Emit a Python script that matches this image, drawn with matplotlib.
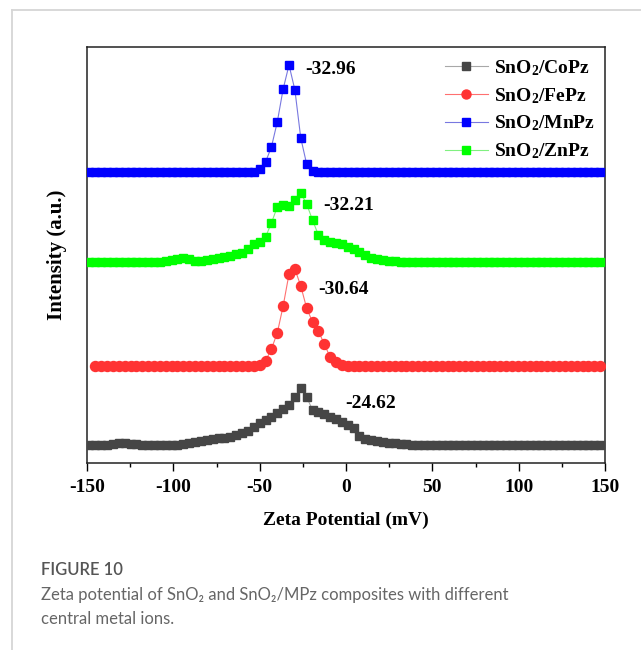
import numpy as np
import matplotlib
matplotlib.use("Agg")
from matplotlib import pyplot as plt
from matplotlib.lines import Line2D

# zeta potential bins (mV), shared by the four samples
zeta = [-148.6, -145.2, -141.8, -138.4, -135.0, -131.6, -128.2, -124.8, -121.4, -118.0,
        -114.6, -111.2, -107.8, -104.4, -101.0, -97.6, -94.2, -90.8, -87.4, -84.0,
        -80.6, -77.2, -73.8, -70.4, -67.0, -63.6, -60.2, -56.8, -53.4, -50.0,
        -46.6, -43.2, -39.8, -36.4, -33.0, -29.6, -26.2, -22.8, -19.4, -16.0,
        -12.6, -9.2, -5.8, -2.4, 1.0, 4.4, 7.8, 11.2, 14.6, 18.0,
        21.4, 24.8, 28.2, 31.6, 35.0, 38.4, 41.8, 45.2, 48.6, 52.0,
        55.4, 58.8, 62.2, 65.6, 69.0, 72.4, 75.8, 79.2, 82.6, 86.0,
        89.4, 92.8, 96.2, 99.6, 103.0, 106.4, 109.8, 113.2, 116.6, 120.0,
        123.4, 126.8, 130.2, 133.6, 137.0, 140.4, 143.8, 147.2]

# intensities (a.u.)
copz = [0, 0, 0, 0, 1, 2, 2, 1, 1, 0,
        0, 0, 0, 0, 0, 0, 1, 2, 3, 4,
        5, 6, 7, 7, 8, 10, 12, 14, 18, 22,
        25, 28, 32, 36, 40, 48, 57, 48, 35, 33,
        31, 28, 26, 23, 20, 17, 9, 6, 5, 4,
        3, 2, 2, 1, 1, 0, 0, 0, 0, 0] + [0] * 28
fepz = [None, 0, 0, 0, 0, 0, 0, 0, 0, 0,
        0, 0, 0, 0, 0, 0, 0, 0, 0, 0,
        0, 0, 0, 0, 0, 0, 0, 0, 0, 1,
        5, 17, 33, 60, 92, 97, 80, 58, 44, 35,
        22, 9, 4, 1, 0, 0, 0, 0, 0, 0] + [0] * 38
mnpz = [0, 0, 0, 0, 0, 0, 0, 0, 0, 0,
        0, 0, 0, 0, 0, 0, 0, 0, 0, 0,
        0, 0, 0, 0, 0, 0, 0, 0, 0, 3,
        10, 25, 50, 83, 107, 82, 34, 8, 1, 0] + [0] * 48
znpz = [0, 0, 0, 0, 0, 0, 0, 0, 0, 0,
        0, 0, 0, 1, 2, 3, 4, 3, 1, 1,
        2, 3, 4, 5, 6, 8, 9, 13, 18, 20,
        25, 39, 55, 57, 56, 62, 69, 58, 42, 27,
        22, 20, 19, 18, 15, 13, 10, 7, 4, 3,
        2, 1, 1, 0, 0, 0, 0, 0, 0, 0] + [0] * 28

names = [r"SnO$_2$/CoPz", r"SnO$_2$/FePz", r"SnO$_2$/MnPz", r"SnO$_2$/ZnPz"]
peak_labels = ["-24.62", "-30.64", "-32.96", "-32.21"]

# stacking offsets and styles
offsets = [18, 97, 291, 201]
marker_colors = ["#464646", "#ff3333", "#0000ff", "#00ff00"]
line_colors = ["#a8a8a8", "#ff7070", "#7878e0", "#80f080"]
markers = ["s", "o", "s", "s"]
label_pos = [(-0.6, 60), (-16.2, 174), (-23.7, 393), (-13.3, 258)]

plt.rcParams["font.family"] = "Liberation Serif"
plt.rcParams["font.weight"] = "bold"
plt.rcParams["axes.unicode_minus"] = False
plt.rcParams["mathtext.fontset"] = "custom"
plt.rcParams["mathtext.rm"] = "Liberation Serif:bold"
plt.rcParams["mathtext.default"] = "rm"

fs = 14

fig = plt.figure(figsize=(6.41, 6.5), dpi=100)
ax = fig.add_axes([87 / 641, 1 - 463 / 650, 518 / 641, 416 / 650])

series = [copz, fepz, mnpz, znpz]
for i, ys in enumerate(series):
    y = np.array([np.nan if v is None else v for v in ys], dtype=float) + offsets[i]
    ms = 7.2 if markers[i] == "o" else 6.4
    ax.plot(zeta, y, color=line_colors[i], lw=0.8, marker=markers[i], ms=ms,
            mfc=marker_colors[i], mec=marker_colors[i], label=names[i], zorder=3 + i)
    ax.text(label_pos[i][0], label_pos[i][1], peak_labels[i], fontsize=fs,
            fontweight="bold", ha="left", va="center", zorder=10)

ax.set_xlim(-150, 150)
ax.set_ylim(0, 416)
ax.set_xticks([-150, -100, -50, 0, 50, 100, 150])
ax.set_xticks([-125, -75, -25, 25, 75, 125], minor=True)
ax.set_yticks([])
ax.tick_params(axis="x", which="major", direction="out", length=6, width=1, pad=5.5,
               labelsize=fs)
ax.tick_params(axis="x", which="minor", direction="out", length=3, width=1)
for s in ax.spines.values():
    s.set_linewidth(1.1)
    s.set_color("#222222")

ax.set_xlabel("Zeta Potential (mV)", fontsize=fs, fontweight="bold", va="center")
ax.xaxis.set_label_coords(0.5, (463 - 520) / 416)
ax.set_ylabel("Intensity (a.u.)", fontsize=15, fontweight="bold", va="center")
ax.yaxis.set_label_coords((57 - 87) / 518, 0.5)

leg = ax.legend(loc="upper left", bbox_to_anchor=((445 - 87) / 518, (463 - 58) / 416),
                frameon=False, fontsize=fs, handlelength=2.2, handletextpad=0.3,
                labelspacing=0.42, borderpad=0, borderaxespad=0, numpoints=1,
                markerscale=0.9)

# card frame around the figure
fig.add_artist(Line2D([12 / 641, 1], [1 - 10 / 650, 1 - 10 / 650],
                      transform=fig.transFigure, color="#d6d6d6", lw=1.3))
fig.add_artist(Line2D([12 / 641, 12 / 641], [0, 1 - 10 / 650],
                      transform=fig.transFigure, color="#d6d6d6", lw=1.3))

cap_font = ["Lato", "Noto Sans", "DejaVu Sans"]
fig.text(41 / 641, 1 - 570 / 650, "FIGURE 10", family=cap_font, fontsize=12,
         fontweight="semibold", color="#555555", va="center", ha="left")
fig.text(41 / 641, 1 - 595 / 650,
         "Zeta potential of SnO\u2082 and SnO\u2082/MPz composites with different",
         family=cap_font, fontsize=12, fontweight="normal", color="#666666",
         va="center", ha="left")
fig.text(41 / 641, 1 - 619 / 650, "central metal ions.", family=cap_font, fontsize=12,
         fontweight="normal", color="#666666", va="center", ha="left")

fig.savefig("out.png", dpi=100)
